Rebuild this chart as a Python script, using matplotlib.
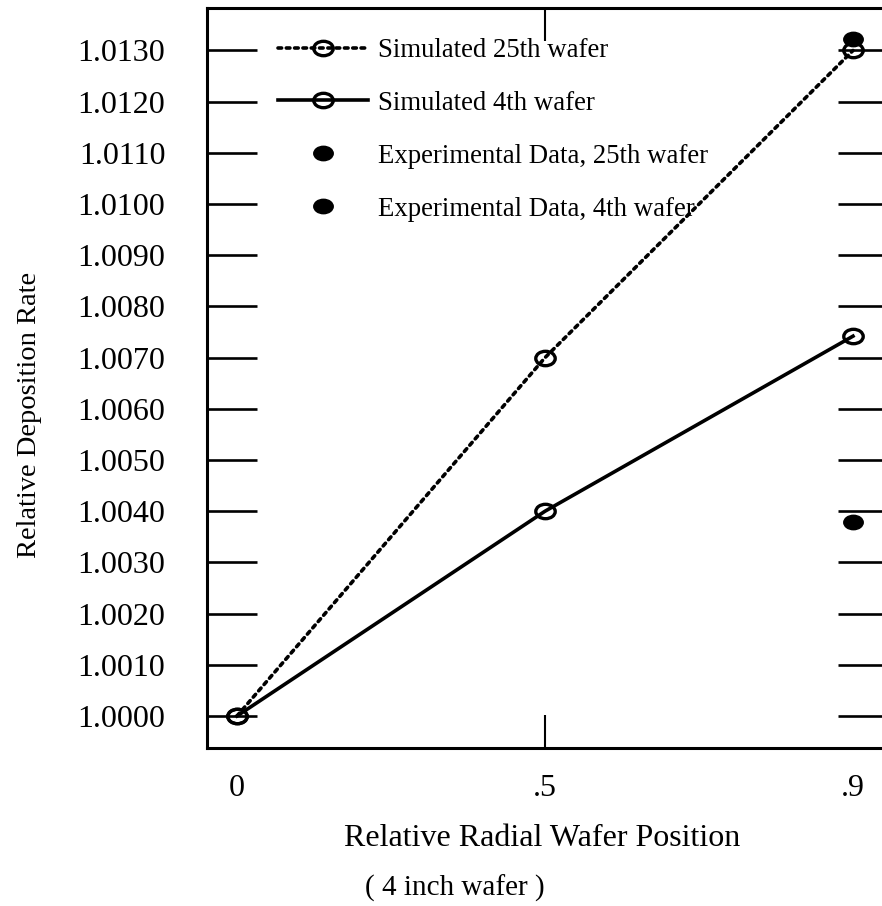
import matplotlib
matplotlib.use("Agg")
import matplotlib.pyplot as plt
from matplotlib.path import Path
from matplotlib.transforms import Affine2D
from matplotlib.markers import MarkerStyle

# ---- data ----
positions = [0, 1, 2]
position_labels = ["0", ".5", ".9"]
sim_25th = [1.0000, 1.0070, 1.0130]
sim_4th = [1.0000, 1.0040, 1.00742]
exp_pos = [2, 2]
exp_25th = [1.01322]
exp_4th = [1.00379]
ytick_values = [1.0000, 1.0010, 1.0020, 1.0030, 1.0040, 1.0050, 1.0060,
                1.0070, 1.0080, 1.0090, 1.0100, 1.0110, 1.0120, 1.0130]
ytick_labels = ["%.4f" % v for v in ytick_values]

plt.rcParams['font.family'] = ['Liberation Serif', 'DejaVu Serif']

W, H = 882, 906
fig = plt.figure(figsize=(W / 100, H / 100), dpi=100)
left, right, top, bottom = 207, 888, 8, 748
ax = fig.add_axes([left / W, 1 - bottom / H, (right - left) / W, (bottom - top) / H])

ellipse = MarkerStyle(Path.unit_circle().transformed(Affine2D().scale(1.35, 1.0)))

ax.plot(positions, sim_25th, linestyle=(0, (1, 1.3)), color='black', lw=2.6,
        marker=ellipse, markersize=14, markerfacecolor='none', markeredgewidth=2.4,
        label='Simulated 25th wafer', dash_capstyle='round')
ax.plot(positions, sim_4th, linestyle='-', color='black', lw=2.6,
        marker=ellipse, markersize=14, markerfacecolor='none', markeredgewidth=2.4,
        label='Simulated 4th wafer')
ax.plot([exp_pos[0]], exp_25th, linestyle='none', marker=ellipse, markersize=14,
        color='black', label='Experimental Data, 25th wafer')
ax.plot([exp_pos[1]], exp_4th, linestyle='none', marker=ellipse, markersize=14,
        color='black', label='Experimental Data, 4th wafer')

ax.set_xlim(-0.0974, (right - 237) / 308)
ax.set_ylim(0.999375, 1.01383)

ax.set_yticks(ytick_values)
ax.set_yticklabels(ytick_labels)
ax.tick_params(axis='y', which='major', direction='in', length=36, width=1.9,
               left=True, right=True, labelsize=23, pad=30)

ax.xaxis.remove_overlapping_locs = False
ax.set_xticks(positions)
ax.set_xticklabels(position_labels)
ax.tick_params(axis='x', which='major', length=0, labelsize=23, pad=19)
ax.set_xticks([1], minor=True)
ax.tick_params(axis='x', which='minor', direction='in', length=24, width=1.5,
               top=True, bottom=True)

for sp in ax.spines.values():
    sp.set_linewidth(2.2)

fig.text(30 / W, 1 - 415 / H, 'Relative Deposition Rate', rotation=90,
         ha='center', va='center', fontsize=20.5)
fig.text(542 / W, 1 - 838 / H, 'Relative Radial Wafer Position',
         ha='center', va='center', fontsize=23)
fig.text(455 / W, 1 - 888 / H, '( 4 inch wafer )',
         ha='center', va='center', fontsize=21)

leg = ax.legend(loc='upper left', bbox_to_anchor=(278 / W, 1 - 38 / H),
                bbox_transform=fig.transFigure, frameon=False, fontsize=19.3,
                handlelength=3.35, handletextpad=0.38, labelspacing=1.04,
                borderpad=0, borderaxespad=0, numpoints=1)

fig.savefig('out.png', dpi=100)
